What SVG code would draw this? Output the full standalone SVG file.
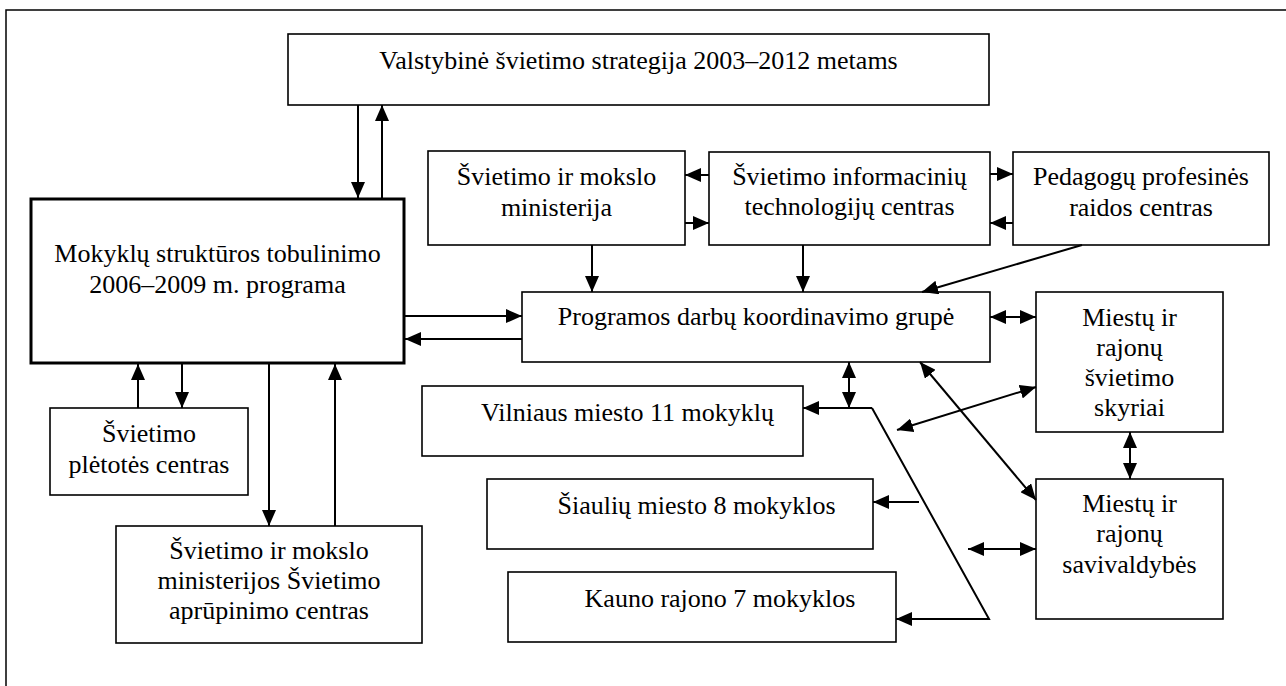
<svg xmlns="http://www.w3.org/2000/svg" width="1286" height="686" viewBox="0 0 1286 686">
<style>
.box{fill:#fff;stroke:#000;stroke-width:1.6}
.main{fill:#fff;stroke:#000;stroke-width:3}
.t text{font-size:26px;fill:#000;text-anchor:middle}
.c line,.c path{stroke:#000;stroke-width:2;fill:none}
.e{marker-end:url(#ah)}
.b{marker-start:url(#ah);marker-end:url(#ah)}
</style>
<defs>
<marker id="ah" markerUnits="userSpaceOnUse" markerWidth="16" markerHeight="14" refX="16" refY="7" orient="auto-start-reverse" viewBox="0 0 16 14">
<path d="M0,0 L16,7 L0,14 z" fill="#000"/>
</marker>
</defs>
<rect x="0" y="0" width="1286" height="686" fill="#fff"/>
<path d="M6,686 L6,10 L1286,10" fill="none" stroke="#000" stroke-width="1.5"/>

<g class="t" font-family="'Liberation Serif', Tinos, 'Times New Roman', Times, serif">
<g id="n-valstybine"><rect class="box" x="288" y="34" width="701" height="71"/><text x="638.5" y="69">Valstybinė švietimo strategija 2003–2012 metams</text></g>
<g id="n-programa"><rect class="main" x="31" y="199" width="373" height="164"/><text x="217.5" y="262">Mokyklų struktūros tobulinimo</text><text x="217.5" y="293">2006–2009 m. programa</text></g>
<g id="n-ministerija"><rect class="box" x="428" y="151" width="257" height="94"/><text x="556.5" y="185">Švietimo ir mokslo</text><text x="556.5" y="216">ministerija</text></g>
<g id="n-itc"><rect class="box" x="709" y="152" width="281" height="93"/><text x="849.5" y="185">Švietimo informacinių</text><text x="849.5" y="215">technologijų centras</text></g>
<g id="n-pedagogu"><rect class="box" x="1013" y="152" width="256" height="93"/><text x="1141" y="185">Pedagogų profesinės</text><text x="1141" y="216">raidos centras</text></g>
<g id="n-koord"><rect class="box" x="522" y="292" width="468" height="70"/><text x="756" y="325">Programos darbų koordinavimo grupė</text></g>
<g id="n-skyriai"><rect class="box" x="1036" y="292" width="187" height="140"/><text x="1129.5" y="326">Miestų ir</text><text x="1129.5" y="356">rajonų</text><text x="1129.5" y="386">švietimo</text><text x="1129.5" y="416">skyriai</text></g>
<g id="n-savivaldybes"><rect class="box" x="1036" y="479" width="187" height="140"/><text x="1129.5" y="512">Miestų ir</text><text x="1129.5" y="542">rajonų</text><text x="1129.5" y="573">savivaldybės</text></g>
<g id="n-pletotes"><rect class="box" x="50" y="408" width="198" height="87"/><text x="149" y="442">Švietimo</text><text x="149" y="473">plėtotės centras</text></g>
<g id="n-aprupinimo"><rect class="box" x="116" y="526" width="306" height="117"/><text x="269" y="559">Švietimo ir mokslo</text><text x="269" y="589">ministerijos Švietimo</text><text x="269" y="619">aprūpinimo centras</text></g>
<g id="n-vilnius"><rect class="box" x="422" y="386" width="381" height="70"/><text x="627.5" y="421">Vilniaus miesto 11 mokyklų</text></g>
<g id="n-siauliai"><rect class="box" x="487" y="479" width="386" height="70"/><text x="696.5" y="514">Šiaulių miesto 8 mokyklos</text></g>
<g id="n-kaunas"><rect class="box" x="508" y="572" width="388" height="70"/><text x="720" y="607">Kauno rajono 7 mokyklos</text></g>
</g>

<g id="connectors" class="c">
<line class="e" x1="358" y1="105" x2="358" y2="198"/>
<line class="e" x1="382" y1="198" x2="382" y2="105"/>
<line class="e" x1="709" y1="175" x2="685" y2="175"/>
<line class="e" x1="685" y1="223" x2="709" y2="223"/>
<line class="e" x1="990" y1="174" x2="1013" y2="174"/>
<line class="e" x1="1013" y1="223" x2="990" y2="223"/>
<line class="e" x1="592" y1="245" x2="592" y2="292"/>
<line class="e" x1="803" y1="245" x2="803" y2="292"/>
<line class="e" x1="1082" y1="245" x2="922" y2="292"/>
<line class="e" x1="405" y1="316" x2="522" y2="316"/>
<line class="e" x1="522" y1="339" x2="405" y2="339"/>
<line class="b" x1="990" y1="317" x2="1036" y2="317"/>
<line class="b" x1="1130" y1="432" x2="1130" y2="479"/>
<line class="b" x1="849" y1="362" x2="849" y2="408"/>
<line class="e" x1="872" y1="408" x2="803" y2="408"/>
<path class="e" d="M872,408 L989,619 L896,619"/>
<line class="e" x1="919" y1="502" x2="873" y2="502"/>
<line class="b" x1="897" y1="430" x2="1036" y2="387"/>
<line class="b" x1="920" y1="362" x2="1036" y2="500"/>
<line class="b" x1="968" y1="549" x2="1036" y2="549"/>
<line class="e" x1="138" y1="408" x2="138" y2="364"/>
<line class="e" x1="182" y1="364" x2="182" y2="408"/>
<line class="e" x1="269" y1="364" x2="269" y2="526"/>
<line class="e" x1="335" y1="526" x2="335" y2="364"/>
</g>
</svg>
